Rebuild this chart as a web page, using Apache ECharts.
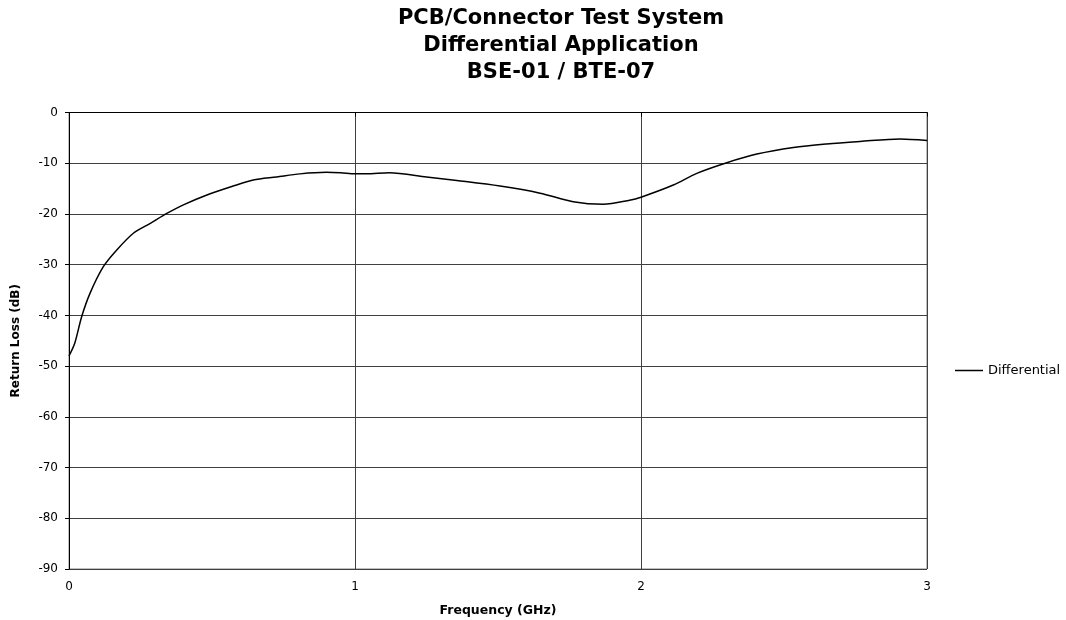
<!DOCTYPE html>
<html>
<head>
<meta charset="utf-8">
<script src="https://cdn.jsdelivr.net/npm/echarts@6/dist/echarts.min.js"></script>
<style>
  html, body { margin: 0; padding: 0; background: #fff; }
  #chart { width: 1066px; height: 620px; }
</style>
</head>
<body>
<div id="chart"></div>
<script>
// values
var titleLines = ["PCB/Connector Test System", "Differential Application", "BSE-01 / BTE-07"];
var seriesName = "Differential";
var freqGHz = [0, 0.02, 0.044, 0.073, 0.12, 0.167, 0.225, 0.283, 0.342, 0.40, 0.48, 0.574, 0.644, 0.726, 0.808, 0.90, 0.95, 1.0, 1.04, 1.12, 1.25, 1.356, 1.507, 1.647, 1.763, 1.868, 1.96, 2.0, 2.113, 2.195, 2.30, 2.405, 2.533, 2.649, 2.766, 2.906, 3.0];
var returnLoss = [-48, -45.5, -40.3, -35.7, -30.4, -27.1, -23.8, -21.9, -19.9, -18.2, -16.3, -14.5, -13.3, -12.7, -12.1, -11.8, -11.9, -12.1, -12.1, -11.9, -12.7, -13.4, -14.5, -15.9, -17.6, -18.1, -17.3, -16.7, -14.3, -12.0, -9.9, -8.2, -6.9, -6.2, -5.7, -5.2, -5.5];

var points = freqGHz.map(function (f, i) { return [f, returnLoss[i]]; });
var font = "DejaVu Sans, Arial, sans-serif";

var chart = echarts.init(document.getElementById("chart"));
chart.setOption({
  animation: false,
  backgroundColor: "#fff",
  textStyle: { fontFamily: font },
  title: {
    text: titleLines.join("\n"),
    left: 556,
    textAlign: "center",
    top: 0,
    textStyle: {
      fontSize: 21,
      fontWeight: "bold",
      color: "#000",
      lineHeight: 27,
      fontFamily: font
    }
  },
  legend: {
    data: [seriesName],
    left: 950,
    top: 359,
    icon: "rect",
    itemWidth: 28,
    itemHeight: 1.5,
    itemGap: 4,
    textStyle: { fontSize: 13, color: "#000", fontFamily: font }
  },
  grid: {
    left: 69,
    right: 139,
    top: 112.5,
    bottom: 51,
    outerBoundsMode: "none",
    containLabel: false,
    show: true,
    borderColor: "#808080",
    borderWidth: 1
  },
  xAxis: {
    type: "value",
    min: 0,
    max: 3,
    interval: 1,
    name: "Frequency (GHz)",
    nameLocation: "middle",
    nameGap: 35,
    nameTextStyle: { fontSize: 12.5, fontWeight: "bold", color: "#000", fontFamily: font },
    axisLine: { lineStyle: { color: "#000", width: 1 } },
    axisTick: { show: true, length: 4, lineStyle: { color: "#000" } },
    axisLabel: { fontSize: 12, color: "#000", margin: 12, fontFamily: font },
    splitLine: { show: true, lineStyle: { color: "#404040", width: 1 } }
  },
  yAxis: {
    type: "value",
    min: -90,
    max: 0,
    interval: 10,
    name: "Return Loss (dB)",
    nameLocation: "middle",
    nameGap: 47,
    nameRotate: 90,
    nameTextStyle: { fontSize: 12, fontWeight: "bold", color: "#000", fontFamily: font },
    axisLine: { show: true, lineStyle: { color: "#000", width: 1 } },
    axisTick: { show: true, length: 4, lineStyle: { color: "#000" } },
    axisLabel: { fontSize: 12, color: "#000", margin: 11, fontFamily: font },
    splitLine: { show: true, lineStyle: { color: "#404040", width: 1 } }
  },
  series: [
    {
      name: seriesName,
      type: "line",
      data: points,
      smooth: 0.3,
      showSymbol: false,
      symbol: "none",
      color: "#000",
      lineStyle: { color: "#000", width: 1.5 }
    }
  ]
});
</script>
</body>
</html>
